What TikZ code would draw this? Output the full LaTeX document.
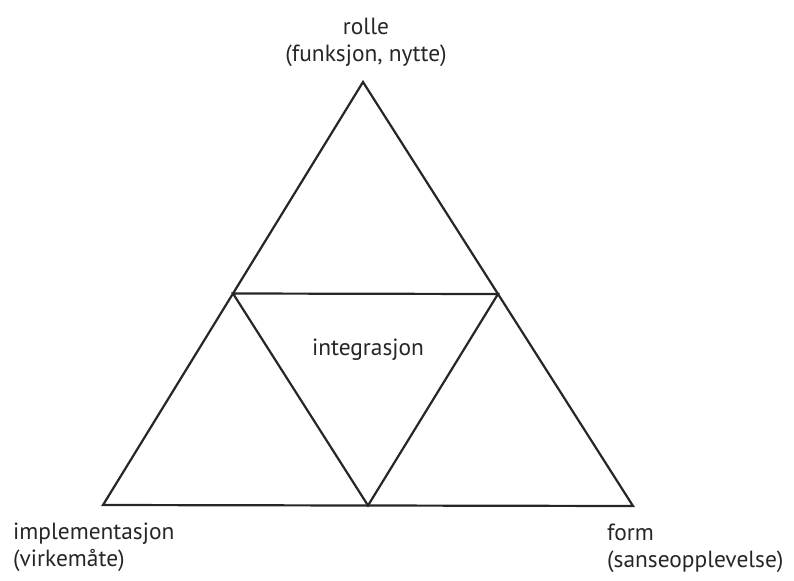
\documentclass[tikz,border=0pt]{standalone}
\usepackage{fontspec}
\setmainfont{PT Sans}
\usetikzlibrary{positioning,calc}

\begin{document}
\begin{tikzpicture}[x=0.5pt,y=-0.5pt,line width=1.1pt,black!85,
  lbl/.style={text=black!85,font=\fontsize{11.7}{13.5}\selectfont,inner sep=0pt}]
  \useasboundingbox (0,0) rectangle (794,580);
  % corners of the big triangle
  \coordinate (rl) at (363,82);
  \coordinate (im) at (103,505);
  \coordinate (fo) at (633,506);
  % midpoints = corners of the inner one
  \coordinate (ri) at ($(rl)!0.5!(im)$);
  \coordinate (rf) at ($(rl)!0.5!(fo)$);
  \coordinate (mf) at ($(im)!0.5!(fo)$);
  \draw[line join=miter] (rl) -- (im) -- (fo) -- cycle;
  \draw[line join=miter] (ri) -- (rf) -- (mf) -- cycle;
  \node[lbl,align=center,anchor=north] (rolle) at (366,17) {rolle\\(funksjon, nytte)};
  \node[lbl,anchor=base] (integ) at (368,355) {integrasjon};
  \node[lbl,align=left,anchor=north west] (impl) at (12,522) {implementasjon\\(virkemåte)};
  \node[lbl,align=left,anchor=north west] (form) at (606,523) {form\\(sanseopplevelse)};
\end{tikzpicture}
\end{document}
